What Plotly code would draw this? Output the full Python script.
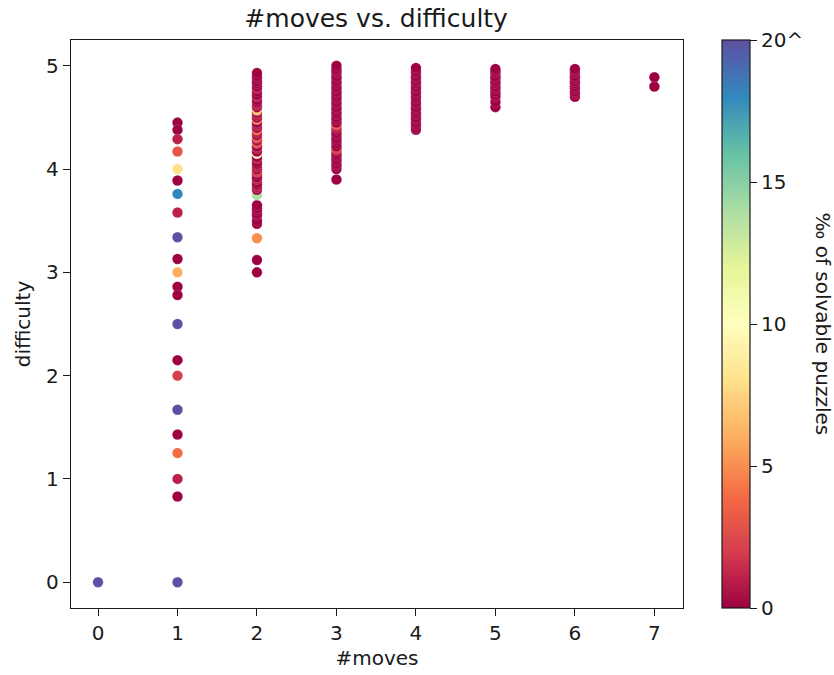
import plotly.graph_objects as go

# ---- data ----
moves_0_difficulty = [0.0]
moves_0_solvable = [20]

moves_1_difficulty = [4.45, 4.38, 4.29, 4.17, 4.00, 3.89, 3.76, 3.58, 3.34, 3.13, 3.00,
                      2.86, 2.78, 2.50, 2.15, 2.00, 1.67, 1.43, 1.25, 1.00, 0.83, 0.0]
moves_1_solvable = [0, 0, 1, 3, 8, 0, 18, 1, 20, 0, 6,
                    0, 0, 20, 0, 2, 20, 0, 4, 1, 0, 20]

moves_2_difficulty = [3.00, 3.12, 3.33, 3.47, 3.50, 3.55, 3.57, 3.60, 3.62, 3.65, 3.75,
                      3.80, 3.82, 3.85, 3.87, 3.90, 3.92, 3.95, 3.97, 4.00, 4.02, 4.05,
                      4.07, 4.10, 4.12, 4.15, 4.17, 4.20, 4.22, 4.25, 4.28, 4.30, 4.33,
                      4.35, 4.38, 4.40, 4.42, 4.45, 4.48, 4.50, 4.52, 4.55, 4.57, 4.60,
                      4.62, 4.65, 4.67, 4.70, 4.72, 4.75, 4.78, 4.80, 4.83, 4.85, 4.88,
                      4.90, 4.93]
moves_2_solvable = [0, 0, 5, 0, 0, 0, 0, 0, 0, 0, 14,
                    0, 1, 0, 0, 1, 0, 0, 2, 0, 1, 0,
                    0, 1, 0, 10, 0, 1, 0, 3, 0, 3, 0,
                    1, 4, 0, 1, 0, 5, 0, 1, 0, 7, 0,
                    1, 0, 0, 1, 0, 0, 1, 0, 0, 0, 0,
                    0, 0]

moves_3_difficulty = [3.90, 4.00, 4.03, 4.05, 4.08, 4.10, 4.13, 4.15, 4.18, 4.20, 4.22,
                      4.25, 4.28, 4.30, 4.33, 4.35, 4.38, 4.40, 4.43, 4.45, 4.48, 4.50,
                      4.53, 4.55, 4.58, 4.60, 4.63, 4.65, 4.68, 4.70, 4.73, 4.75, 4.78,
                      4.80, 4.83, 4.85, 4.88, 4.90, 4.93, 4.95, 4.97, 5.00]
moves_3_solvable = [0, 0, 0, 0, 0, 0, 0, 0, 1, 2, 0,
                    0, 0, 0, 0, 0, 0, 1, 3, 0, 0, 0,
                    0, 0, 0, 0, 0, 0, 0, 0, 0, 0, 0,
                    0, 0, 0, 0, 0, 0, 0, 0, 0]

moves_4_difficulty = [4.38, 4.40, 4.43, 4.45, 4.48, 4.50, 4.53, 4.55, 4.58, 4.60, 4.63,
                      4.65, 4.68, 4.70, 4.73, 4.75, 4.78, 4.80, 4.83, 4.85, 4.88, 4.90,
                      4.93, 4.95, 4.98]
moves_4_solvable = [0] * 25

moves_5_difficulty = [4.60, 4.65, 4.70, 4.72, 4.75, 4.78, 4.80, 4.83, 4.85, 4.88, 4.90,
                      4.93, 4.95, 4.97]
moves_5_solvable = [0] * 14

moves_6_difficulty = [4.70, 4.73, 4.75, 4.78, 4.80, 4.83, 4.85, 4.88, 4.90, 4.93, 4.95,
                      4.97]
moves_6_solvable = [0] * 12

moves_7_difficulty = [4.80, 4.89]
moves_7_solvable = [0, 0]

colorbar_tickvals = [0, 5, 10, 15, 20]
colorbar_ticktext = ["0", "5", "10", "15", "20^"]

# ---- build points ----
columns = [
    (0, moves_0_difficulty, moves_0_solvable),
    (1, moves_1_difficulty, moves_1_solvable),
    (2, moves_2_difficulty, moves_2_solvable),
    (3, moves_3_difficulty, moves_3_solvable),
    (4, moves_4_difficulty, moves_4_solvable),
    (5, moves_5_difficulty, moves_5_solvable),
    (6, moves_6_difficulty, moves_6_solvable),
    (7, moves_7_difficulty, moves_7_solvable),
]
xs, ys, cs = [], [], []
for m, diffs, vals in columns:
    for d, v in zip(diffs, vals):
        xs.append(m)
        ys.append(d)
        cs.append(v)

FONT = "DejaVu Sans"
INK = "#1a1a1a"

fig = go.Figure()
fig.add_trace(go.Scatter(
    x=xs, y=ys, mode="markers",
    marker=dict(
        size=10.5, color=cs, colorscale="Spectral", cmin=0, cmax=20,
        line=dict(color="rgba(255,255,255,0.45)", width=0.35),
        colorbar=dict(
            x=1.0637, xref="paper", xanchor="left", xpad=0,
            y=0.5, yanchor="middle", len=1.0, lenmode="fraction", ypad=0,
            thickness=28, thicknessmode="pixels",
            outlinewidth=1.2, outlinecolor=INK,
            tickmode="array", tickvals=colorbar_tickvals, ticktext=colorbar_ticktext,
            ticks="outside", ticklen=7, tickwidth=1.2, tickcolor=INK,
            tickfont=dict(family=FONT, size=20, color=INK),
        ),
    ),
    showlegend=False,
    hoverinfo="x+y",
))

axis_common = dict(
    showline=True, mirror=True, linecolor=INK, linewidth=1.3,
    ticks="outside", ticklen=7, tickwidth=1.3, tickcolor=INK,
    showgrid=False, zeroline=False,
    tickfont=dict(family=FONT, size=20, color=INK),
)

fig.update_layout(
    width=834, height=675,
    margin=dict(l=71, r=151, t=40, b=67, autoexpand=False),
    paper_bgcolor="white", plot_bgcolor="white",
    title=dict(text="#moves vs. difficulty", x=0.451, xanchor="center",
               y=0.973, yanchor="middle",
               font=dict(family=FONT, size=25, color=INK)),
    xaxis=dict(range=[-0.34, 7.36], tickvals=[0, 1, 2, 3, 4, 5, 6, 7],
               title=dict(text="#moves", standoff=6,
                          font=dict(family=FONT, size=20, color=INK)),
               **axis_common),
    yaxis=dict(range=[-0.25, 5.25], tickvals=[0, 1, 2, 3, 4, 5],
               title=dict(text="difficulty", standoff=10,
                          font=dict(family=FONT, size=20, color=INK)),
               **axis_common),
    annotations=[dict(
        text="‰ of solvable puzzles", textangle=90,
        xref="paper", yref="paper", x=1.228, y=0.5,
        xanchor="center", yanchor="middle", showarrow=False,
        font=dict(family=FONT, size=20, color=INK),
    )],
)

fig.write_html(
    "out.html",
    config={"displayModeBar": False},
    post_script="document.body.style.margin='0';document.body.style.overflow='hidden';",
)
